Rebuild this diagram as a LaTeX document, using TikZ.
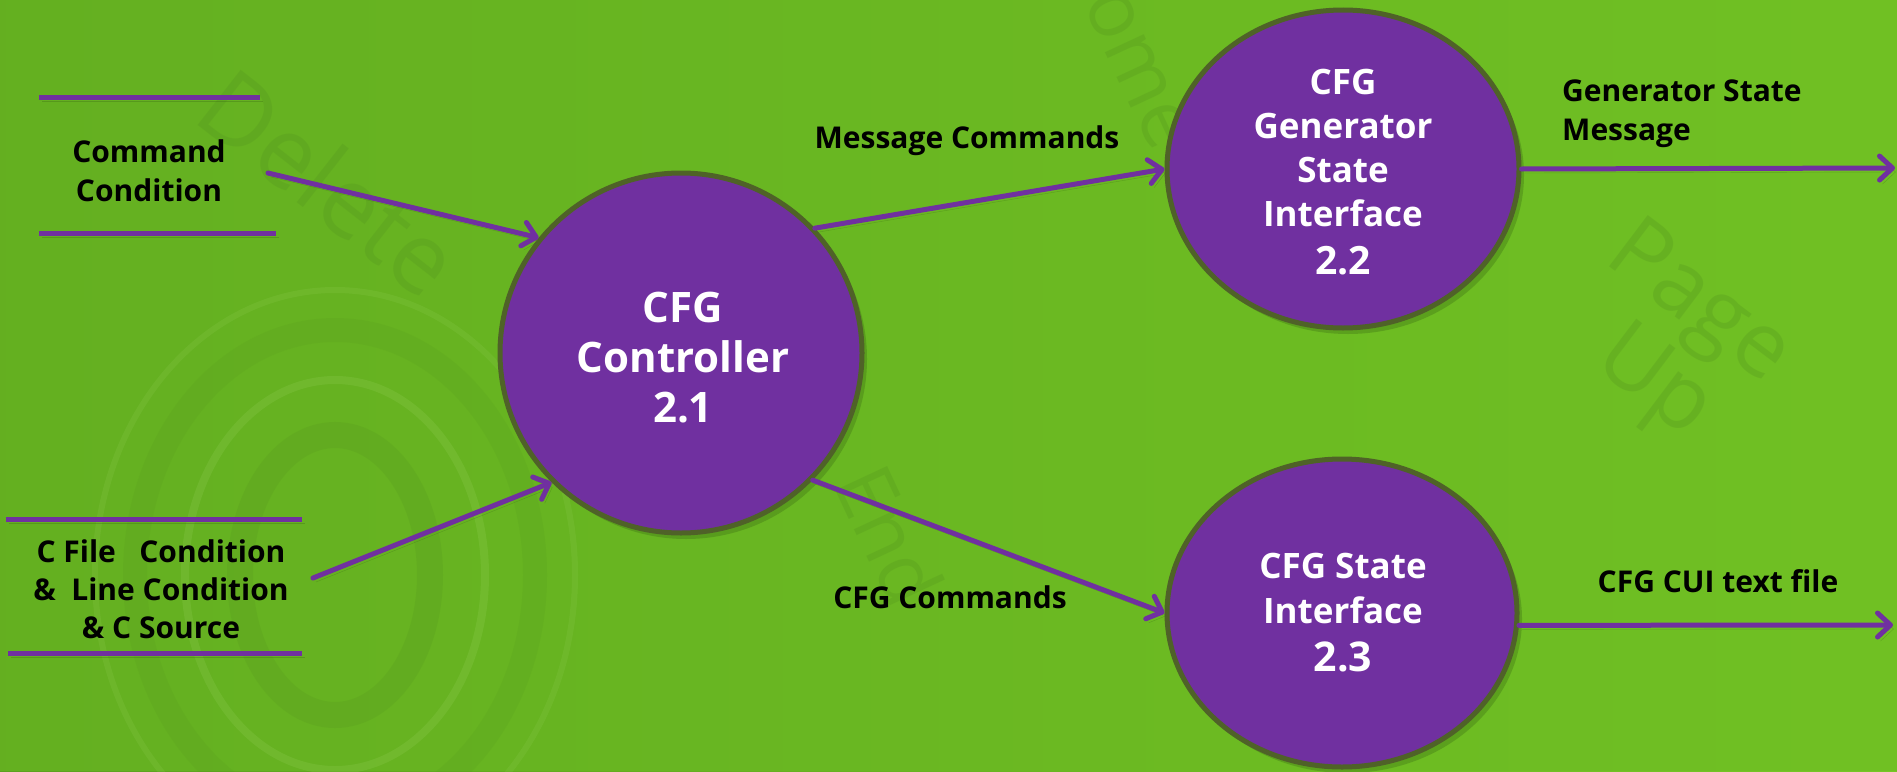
\documentclass[tikz,border=0pt]{standalone}
\usepackage{fontspec}
\setmainfont{Open Sans}
\usetikzlibrary{shapes.geometric,arrows.meta,shadows}

\definecolor{bggreen}{RGB}{108,188,34}
\definecolor{bglight}{RGB}{118,198,38}
\definecolor{bgdark}{RGB}{84,150,30}
\definecolor{procpurple}{RGB}{112,48,160}
\definecolor{procedge}{RGB}{79,98,40}
\definecolor{flowpurple}{RGB}{112,48,160}
\definecolor{shadegreen}{RGB}{60,110,20}

\tikzset{
  proc/.style={ellipse, fill=procpurple, draw=procedge, line width=5pt, inner sep=0pt,
    drop shadow={shadow xshift=5pt, shadow yshift=-6pt, opacity=0.35, fill=shadegreen}},
  proctext/.style={text=white, align=center, inner sep=0pt, font=\bfseries},
  flowlabel/.style={text=black, align=center, inner sep=0pt,
    font=\bfseries\fontsize{30}{39}\selectfont},
  flow/.style={draw=flowpurple, line width=5pt, line cap=round,
    -{Straight Barb[length=13pt,width=24pt,line width=5pt,round]},
    preaction={draw=shadegreen, draw opacity=0.35,
      transform canvas={shift={(3pt,-4pt)}}}},
  storeline/.style={draw=flowpurple, line width=5pt,
    preaction={draw=shadegreen, draw opacity=0.35,
      transform canvas={shift={(3pt,-4pt)}}}},
  faint/.style={text=bgdark, opacity=0.3, inner sep=0pt,
    font=\fontsize{98}{98}\selectfont}
}

\begin{document}
\begin{tikzpicture}[x=1pt,y=-1pt]
\useasboundingbox (0,0) rectangle (1897,771);

% backdrop
\shade[left color=bgdark!70!bggreen, right color=bglight] (0,0) rectangle (1897,771);
\fill[bggreen, opacity=0.55] (0,0) rectangle (1897,771);

% faint key caps behind the chart
\begin{scope}
  \node[faint, rotate=-38] (kdel) at (330,182) {Delete};
  \node[faint, rotate=-37, font=\fontsize{90}{90}\selectfont] (kpage) at (1697,306) {Page};
  \node[faint, rotate=-37, font=\fontsize{90}{90}\selectfont] (kup) at (1652,385) {Up};
  \node[faint, rotate=-65, font=\fontsize{80}{80}\selectfont] (kend) at (890,535) {End};
  \node[faint, rotate=-65, font=\fontsize{80}{80}\selectfont] (khome) at (1131,40) {Home};
  \draw[bgdark, opacity=0.22, line width=26pt] (335,575) circle[x radius=95, y radius=140];
  \draw[bglight!70!white, opacity=0.18, line width=8pt] (335,575) circle[x radius=150, y radius=195];
  \draw[bgdark, opacity=0.16, line width=24pt] (335,575) circle[x radius=200, y radius=245];
  \draw[bglight!70!white, opacity=0.14, line width=6pt] (335,575) circle[x radius=240, y radius=285];
\end{scope}

% processes
\node[proc, minimum width=362, minimum height=360] (p21) at (681,353) {};
\node[proc, minimum width=352, minimum height=318] (p22) at (1343,169) {};
\node[proc, minimum width=350, minimum height=308] (p23) at (1342,613) {};

\node[proctext, font=\bfseries\fontsize{42}{50}\selectfont] (t21) at (683,358)
  {CFG\\Controller\\2.1};
\node[proctext, font=\bfseries\fontsize{35}{44}\selectfont] (t22) at (1343,172)
  {CFG\\Generator\\State\\Interface\\[4pt]{\fontsize{39}{44}\selectfont 2.2}};
\node[proctext, font=\bfseries\fontsize{35}{45}\selectfont] (t23) at (1343,613)
  {CFG State\\Interface\\[3pt]{\fontsize{41}{45}\selectfont 2.3}};

% data stores
\coordinate (s1a) at (39,97);  \coordinate (s1b) at (260,97);
\coordinate (s1c) at (39,233); \coordinate (s1d) at (276,233);
\coordinate (s2a) at (6,519);  \coordinate (s2b) at (302,519);
\coordinate (s2c) at (8,653);  \coordinate (s2d) at (302,653);
\draw[storeline] (s1a) -- (s1b);
\draw[storeline] (s1c) -- (s1d);
\draw[storeline] (s2a) -- (s2b);
\draw[storeline] (s2c) -- (s2d);

\node[flowlabel] (cmdcond) at (149,171) {Command\\Condition};
\node[flowlabel, font=\bfseries\fontsize{30}{38}\selectfont] (cfile) at (161,589)
  {C File\ \ \ Condition\\\&\ \ Line Condition\\\& C Source};

% flows
\coordinate (in1) at (268,173);
\coordinate (in2) at (313,578);
\coordinate (out1) at (1895,168);
\coordinate (out2) at (1893,625);

\draw[flow] (in1) -- (p21.141);
\draw[flow] (in2) -- (p21.-135);
\draw[flow] (p21.43) -- (p22.west);
\draw[flow] (p21.-44) -- (p23.west);
\draw[flow] (p22.east) -- (out1);
\draw[flow] (p23.-4) -- (out2);

% flow labels
\node[flowlabel] (lmsg) at (967,141) {Message Commands};
\node[flowlabel] (lcfg) at (950,597) {CFG Commands};
\node[flowlabel, align=left, anchor=west] (lgen) at (1562,114) {Generator State\\Message};
\node[flowlabel] (lcui) at (1718,581) {CFG CUI text file};
\end{tikzpicture}
\end{document}
